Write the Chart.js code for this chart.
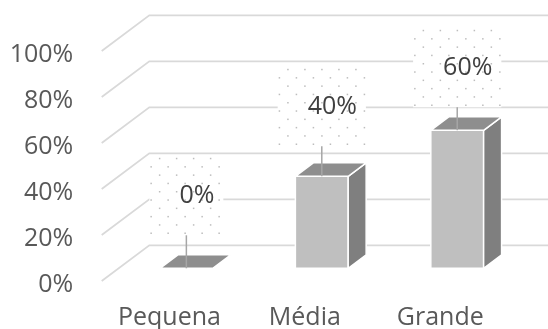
<!DOCTYPE html>
<html>
<head>
<meta charset="utf-8">
<script src="https://cdn.jsdelivr.net/npm/chart.js"></script>
<style>
  html, body { margin: 0; padding: 0; background: #fff; }
  #wrap { width: 548px; height: 329px; }
</style>
</head>
<body>
<div id="wrap"><canvas id="chart"></canvas></div>
<script>
const categories = ["Pequena", "Média", "Grande"];
const shares = [0, 40, 60];
const yTickValues = [0, 20, 40, 60, 80, 100];

// 3D box: offset from the front plane to the back wall
const WALL = { dx: 47.6, dy: -35.7 };
const BAR_FRONT = 0.356;
const BAR_BACK = 0.733;
// how far each callout floats above its bar
const calloutLift = [33, 30, 23];

const FONT = { family: '"Open Sans", sans-serif', size: 25 };

const walls = {
    id: "walls",
    beforeDatasetsDraw(chart) {
        const { ctx, chartArea } = chart;
        const y = chart.scales.y;
        ctx.save();
        ctx.strokeStyle = "#d9d9d9";
        ctx.lineWidth = 1.75;
        y.ticks.forEach(t => {
            const py = y.getPixelForValue(t.value);
            ctx.beginPath();
            ctx.moveTo(chartArea.left, py);
            ctx.lineTo(chartArea.left + WALL.dx, py + WALL.dy);
            ctx.lineTo(chart.width, py + WALL.dy);
            ctx.stroke();
        });
        ctx.restore();
    }
};

function poly(ctx, pts, fill) {
    ctx.beginPath();
    ctx.moveTo(pts[0][0], pts[0][1]);
    for (let i = 1; i < pts.length; i++) ctx.lineTo(pts[i][0], pts[i][1]);
    ctx.closePath();
    ctx.fillStyle = fill;
    ctx.fill();
    ctx.stroke();
}

const prisms = {
    id: "prisms",
    afterDatasetsDraw(chart) {
        const ctx = chart.ctx;
        const meta = chart.getDatasetMeta(0);
        const fx = WALL.dx * BAR_FRONT, fy = WALL.dy * BAR_FRONT;
        const ddx = WALL.dx * (BAR_BACK - BAR_FRONT), ddy = WALL.dy * (BAR_BACK - BAR_FRONT);

        ctx.save();
        ctx.strokeStyle = "#ffffff";
        ctx.lineWidth = 1.5;
        ctx.lineJoin = "round";
        meta.data.forEach((bar, i) => {
            const half = bar.width / 2;
            const x0 = bar.x - half + fx, x1 = bar.x + half + fx;
            const bottom = bar.base + fy, top = bar.y + fy;
            if (bottom - top > 0.5) {
                poly(ctx, [[x0, top], [x1, top], [x1, bottom], [x0, bottom]], "#bfbfbf");
                poly(ctx, [[x1, top], [x1 + ddx, top + ddy], [x1 + ddx, bottom + ddy], [x1, bottom]], "#7f7f7f");
            }
            poly(ctx, [[x0, top], [x1, top], [x1 + ddx, top + ddy], [x0 + ddx, top + ddy]], "#8e8e8e");
        });
        ctx.restore();

        // data callouts
        ctx.save();
        ctx.font = FONT.size + "px " + FONT.family;
        ctx.textBaseline = "middle";
        ctx.textAlign = "left";
        meta.data.forEach((bar, i) => {
            const text = shares[i] + "%";
            const ax = bar.x + fx;
            const ay = bar.y + fy;
            const tw = ctx.measureText(text).width;
            const w = tw + 39, h = 80;
            const left = ax - w / 2;
            const bottom = ay - calloutLift[i];
            const top = bottom - h;

            ctx.fillStyle = "#ffffff";
            ctx.fillRect(left, top, w, h);
            ctx.fillStyle = "#bdbdbd";
            for (let r = 0, yy = top + 2.5; yy < bottom - 1; r++, yy += 8.3) {
                for (let xx = left + (r % 2 ? 1 : 9.5); xx < left + w - 1; xx += 17) {
                    ctx.fillRect(xx, yy, 1.5, 1.5);
                }
            }

            ctx.strokeStyle = "#a6a6a6";
            ctx.lineWidth = 1.5;
            ctx.beginPath();
            ctx.moveTo(ax, bottom);
            ctx.lineTo(ax, ay);
            ctx.stroke();

            ctx.fillStyle = "#404040";
            ctx.fillText(text, left + 30, top + h / 2 + 1);
        });
        ctx.restore();
    }
};

function draw() {
    new Chart(document.getElementById("chart"), {
        type: "bar",
        data: {
            labels: categories,
            datasets: [{
                data: shares,
                backgroundColor: "rgba(0,0,0,0)",
                borderWidth: 0,
                categoryPercentage: 1,
                barPercentage: 0.39
            }]
        },
        options: {
            responsive: true,
            maintainAspectRatio: false,
            animation: false,
            events: [],
            layout: { padding: { top: 51, right: 40, left: 0, bottom: 0 } },
            plugins: { legend: { display: false }, tooltip: { enabled: false } },
            scales: {
                x: {
                    grid: { display: false, drawTicks: false },
                    border: { display: false },
                    ticks: { font: FONT, color: "#595959", padding: 22 },
                    afterFit: s => { s.height = 48; }
                },
                y: {
                    min: 0,
                    max: 100,
                    grid: { display: false, drawTicks: false },
                    border: { display: false },
                    afterBuildTicks: s => { s.ticks = yTickValues.map(v => ({ value: v })); },
                    ticks: { font: FONT, color: "#595959", padding: 28.5, labelOffset: 4, callback: v => v + "%" },
                    afterFit: s => { s.width = 101.7; }
                }
            }
        },
        plugins: [walls, prisms]
    });
}

document.fonts.load('25px "Open Sans"').then(draw, draw);
</script>
</body>
</html>
